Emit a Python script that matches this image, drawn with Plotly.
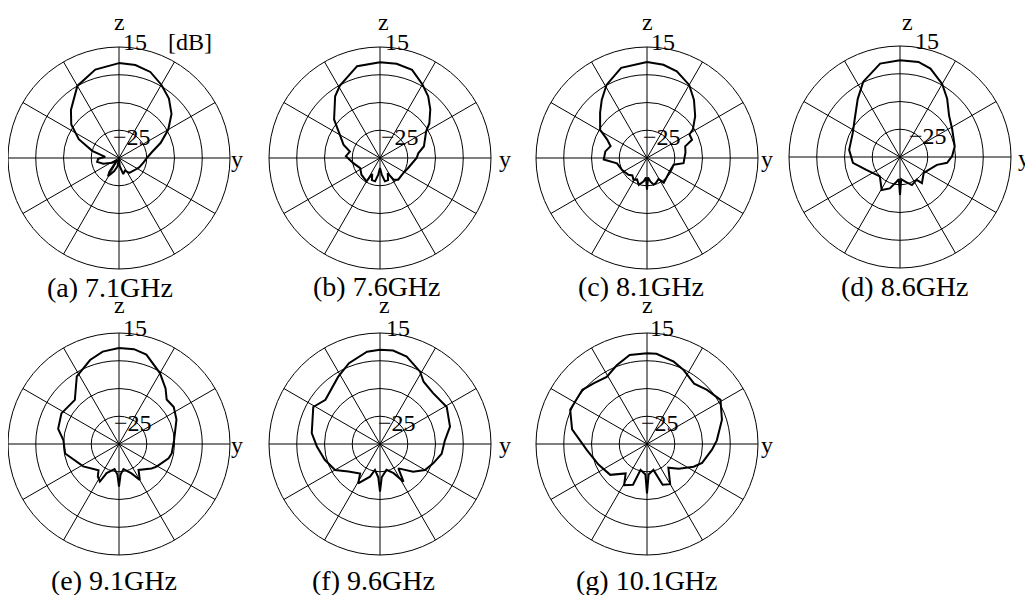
import plotly.graph_objects as go

# ---------------- data (dB vs angle from +z toward +y, clockwise) ----------------
theta_a = [0, 10, 20, 30, 40, 50, 60, 70, 80, 90, 100, 115, 130, 145, 155, 165, 175, 180, 190, 200,
           207, 211, 215, 222, 235, 250, 260, 268, 275, 285, 295, 305, 315, 330, 345, 360]
r_a = [9.2, 9.0, 8.0, 5.5, 3.0, -0.3, -4.5, -9, -13, -15, -16, -17, -18, -18.5, -20, -19, -22, -25, -22, -20,
       -18.5, -17.3, -19, -24, -22, -19, -17, -17.5, -20, -15, -9, -4, -0.5, 5, 8, 9.2]

theta_b = [0, 10, 20, 30, 38, 46, 55, 60, 75, 83, 90, 109, 123, 140, 148, 153, 160, 168, 174, 180,
           186, 192, 200, 206, 210, 228, 243, 259, 273, 282, 290, 300, 310, 324, 331, 346, 360]
r_b = [9.5, 9.5, 8.8, 5.6, 3.2, 0.2, -3.3, -5.8, -8.6, -11.1, -11.8, -14.2, -15, -14.8, -15.8, -18.9, -16.5,
       -16.4, -19, -21.4, -19, -16.4, -16.5, -18.6, -15.3, -16, -17, -15.2, -12.7, -13.9, -11, -8.3, -3.4,
       2.5, 4.8, 9.1, 9.5]

theta_c = [0, 10, 19, 30, 39, 49, 58, 61, 68, 73, 82, 90, 98, 104, 120, 132, 146, 151, 160, 166, 172,
           177, 180, 183, 188, 197, 205, 212, 220, 228, 245, 260, 268, 279, 288, 295, 301, 314, 322, 331,
           344, 360]
r_c = [9.6, 9.1, 8.0, 5.4, 1.9, -2, -5.5, -7.5, -7.5, -10.6, -11, -11.5, -11.7, -15.1, -15.5, -15.2,
       -14.2, -16.4, -15.5, -15.1, -16.5, -18, -13.6, -18, -16.5, -14.9, -16.5, -15.8, -16.8, -16, -15,
       -14, -9.4, -9.8, -11.2, -9.1, -5.3, -1.5, 1.5, 5.1, 8.8, 9.6]

theta_d = [0, 11, 19, 30, 39, 50, 62, 79, 89, 97, 102, 124, 140, 144, 157, 168, 177, 180, 183, 188,
           198, 209, 226, 249, 263, 278, 297, 310, 324, 334, 348, 360]
r_d = [9.9, 9.9, 8.7, 5.4, 2, -1.9, -3.7, -4.9, -6.2, -7.9, -11.4, -14.7, -12.7, -14.8, -14, -15.9,
       -17, -11.3, -17, -16, -13.1, -11.4, -14.9, -12, -7.9, -6.5, -5.9, -3.7, 0.9, 5.2, 9.4, 9.9]

theta_e = [0, 9, 17, 30, 40, 47, 56, 67, 86, 100, 106, 121, 127, 143, 150, 157, 170, 177, 180, 183,
           190, 203, 207, 213, 218, 238, 260, 274, 284, 298, 315, 328, 341, 350, 360]
r_e = [9.6, 9.6, 8.7, 4.5, 1.1, -1.5, -1.2, -2.5, -5.1, -5.7, -6.4, -9.2, -10.3, -13.3, -10, -13.5,
       -15.8, -14, -9.6, -14, -15.8, -13.6, -9.8, -11, -13, -9.8, -5.3, -4.9, -2.4, -1.5, -2.5, 3.7, 7,
       8.8, 9.6]

theta_f = [0, 8, 17, 29, 35, 46, 61, 76, 87, 99, 110, 120, 130, 143, 148, 155, 166, 177, 180, 183,
           191, 197, 209, 214, 229, 240, 254, 268, 279, 299, 309, 328, 339, 352, 360]
r_f = [9.0, 9.0, 7.9, 4.8, 2.4, 1.5, 2.5, 1, -1.6, -2.5, -4.6, -6.3, -9.4, -14, -9, -13.4, -15.4, -13,
       -7.8, -13, -15.5, -12.7, -8.8, -12.2, -9.9, -6.3, -4.3, -2.2, -0.1, 2.5, 0.3, 3.5, 6.2, 8.6, 9.0]

theta_g = [0, 6, 18, 26, 38, 48, 59, 72, 87, 95, 109, 116, 128, 138, 150, 159, 166, 177, 180, 183,
           194, 199, 209, 216, 230, 247, 264, 281, 294, 310, 319, 329, 339, 349, 360]
r_g = [7.7, 7.7, 6.2, 4.8, 2.6, 4.1, 5.9, 3.4, 0.2, -1.5, -4, -6.3, -10.5, -13.5, -8.3, -9.3, -15.4,
       -14, -7.2, -14, -15.4, -9.5, -8, -11.9, -7.7, -6, -3.3, 2.5, 5.3, 5.4, 4.1, 3.2, 5.4, 7.7, 7.7]

captions = ["(a) 7.1GHz", "(b) 7.6GHz", "(c) 8.1GHz", "(d) 8.6GHz",
            "(e) 9.1GHz", "(f) 9.6GHz", "(g) 10.1GHz"]
r_outer_label = "15"
r_inner_label = "\u221225"
unit_label = "[dB]"
radial_range = [-25, 15]
radial_grid = [-15, -5, 5]

series = [(theta_a, r_a), (theta_b, r_b), (theta_c, r_c), (theta_d, r_d),
          (theta_e, r_e), (theta_f, r_f), (theta_g, r_g)]

# ---------------- layout geometry (pixels in the target image) ----------------
W, H = 1033, 595
OFF = 8  # page body margin
R = 111
centers = [(119, 158), (380, 158), (647, 158), (900, 157), (119, 444), (380, 444), (647, 444)]
cap_x = [110, 377, 641, 905, 114, 373, 647]
cap_y = [287, 286, 286, 286, 580, 580, 580]
z_y = [22, 22, 22, 22, 305, 305, 305]
d15 = [16, 17, 16, 27, 16, 18, 15]
d25 = [13, 20, 15, 28, 14, 17, 13]
dy_lab = [118, 125, 120, 124, 118, 125, 120]
dz_lab = [0, 3, 0, 7, 0, 4, 0]

FONT = dict(family="Liberation Serif", size=24, color="black")
CAPFONT = dict(family="Liberation Serif", size=28, color="black")

fig = go.Figure()
annotations = []


def fx(x):
    return (x - OFF) / W


def fy(y):
    return 1 - (y - OFF) / H


for i, ((th, rr), (cx, cy)) in enumerate(zip(series, centers)):
    name = "polar" if i == 0 else f"polar{i + 1}"
    fig.add_trace(go.Scatterpolar(theta=th, r=rr, mode="lines",
                                  line=dict(color="black", width=2),
                                  subplot=name, showlegend=False, hoverinfo="skip"))
    fig.update_layout(**{name: dict(
        domain=dict(x=[max(0, fx(cx - R)), fx(cx + R)], y=[fy(cy + R), fy(cy - R)]),
        bgcolor="white",
        angularaxis=dict(rotation=90, direction="clockwise", tickmode="linear", tick0=0, dtick=30,
                         showticklabels=False, ticks="", showgrid=True, gridcolor="black",
                         gridwidth=1, showline=True, linecolor="black", linewidth=1),
        radialaxis=dict(range=radial_range, tickvals=radial_grid, showticklabels=False, ticks="",
                        showline=False, showgrid=True, gridcolor="black", gridwidth=1),
    )})
    texts = [
        ("z", cx + dz_lab[i], z_y[i], FONT),
        (r_outer_label, cx + d15[i], cy - 116, FONT),
        (r_inner_label, cx + d25[i], cy - 21, FONT),
        ("y", cx + dy_lab[i], cy + 1, FONT),
        (captions[i], cap_x[i], cap_y[i], CAPFONT),
    ]
    for t, x, y, f in texts:
        annotations.append(dict(text=t, x=fx(x), y=fy(y), xref="paper", yref="paper",
                                xanchor="center", yanchor="middle", showarrow=False,
                                font=f))

annotations.append(dict(text=unit_label, x=fx(190), y=fy(42), xref="paper", yref="paper",
                        xanchor="center", yanchor="middle", showarrow=False, font=FONT))

fig.update_layout(width=W, height=H, margin=dict(l=0, r=0, t=0, b=0),
                  paper_bgcolor="white", plot_bgcolor="white",
                  annotations=annotations, showlegend=False)

fig.write_html("out.html")
